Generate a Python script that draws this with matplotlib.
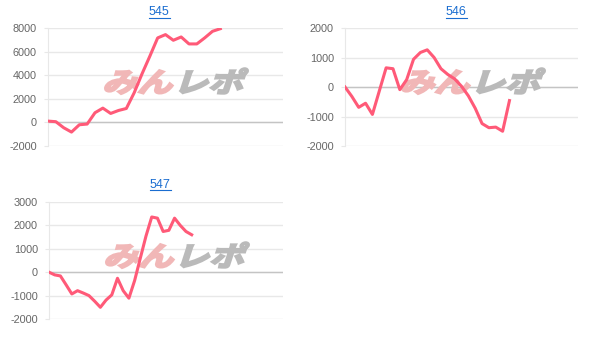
import matplotlib
matplotlib.use("Agg")
import matplotlib.pyplot as plt
from matplotlib.lines import Line2D
from matplotlib.textpath import TextPath
from matplotlib.patches import PathPatch
from matplotlib.font_manager import FontProperties
from matplotlib.transforms import Affine2D, IdentityTransform

# chart data
titles = ["545", "546", "547"]
diff_545 = [110, 60, -450, -820, -200, -140, 820, 1210, 760, 1010, 1180, 2510,
            4110, 5610, 7160, 7440, 6960, 7240, 6650, 6650, 7160, 7720, 7940]
diff_546 = [0, -320, -690, -550, -930, -140, 650, 620, -90, 250, 940, 1170, 1260,
            1000, 620, 425, 275, 25, -300, -720, -1240, -1380, -1360, -1500, -460]
diff_547 = [0, -115, -160, -540, -930, -790, -890, -1000, -1240, -1500, -1190, -970,
            -260, -790, -1110, -360, 600, 1550, 2360, 2310, 1740, 1790, 2310, 2000,
            1740, 1600]
yticks_545 = [-2000, 0, 2000, 4000, 6000, 8000]
yticks_546 = [-2000, -1000, 0, 1000, 2000]
yticks_547 = [-2000, -1000, 0, 1000, 2000, 3000]
xmax = [30, 34, 41]

W, H = 609, 342
LINE = "#ff5a78"
plt.rcParams["font.family"] = ["Liberation Sans", "DejaVu Sans"]

fig = plt.figure(figsize=(W / 100, H / 100), dpi=100)

# axes boxes in pixels: left, top, right, bottom
boxes = [(48, 28, 283, 146), (345, 28, 578, 146), (49, 202, 283, 319)]
title_pos = [(159, 12), (456, 12), (160, 185)]
series = [diff_545, diff_546, diff_547]
yticks = [yticks_545, yticks_546, yticks_547]

fp = FontProperties(family="Noto Sans CJK JP", weight="bold")


def watermark(ax, left, top):
    # logo drawn as skewed text paths in pixel space
    for txt, dx, col in [("みん", 54, "#f1b7b7"), ("レポ", 125, "#bababa")]:
        tp = TextPath((0, 0), txt, size=35, prop=fp)
        tr = Affine2D().scale(1.0, 0.78).skew_deg(18, 0).translate(left + dx, H - top - 64)
        patch = PathPatch(tr.transform_path(tp), transform=IdentityTransform(),
                          facecolor=col, edgecolor=col, lw=1.6, zorder=1.5)
        ax.add_artist(patch)


for i in range(3):
    l, t, r, b = boxes[i]
    ax = fig.add_axes([l / W, (H - b) / H, (r - l) / W, (b - t) / H])
    vals = series[i]
    ax.plot(range(len(vals)), vals, color=LINE, lw=2.2, zorder=3, solid_joinstyle="round")
    ax.set_xlim(0, xmax[i])
    ax.set_ylim(yticks[i][0], yticks[i][-1])
    ax.set_yticks(yticks[i])
    ax.set_yticklabels([str(v) for v in yticks[i]])
    ax.set_xticks([])
    ax.set_axisbelow(True)
    ax.grid(axis="y", color="#e8e8e8", lw=1)
    ax.axhline(0, color="#c4c4c4", lw=1, zorder=1)
    for s in ["top", "right", "bottom"]:
        ax.spines[s].set_visible(False)
    ax.spines["left"].set_color("#e8e8e8")
    ax.tick_params(axis="y", length=3, color="#e8e8e8", pad=5, labelsize=7.8,
                   labelcolor="#666666")
    watermark(ax, l, t)

    tx, ty = title_pos[i]
    fig.text(tx / W, 1 - ty / H, titles[i], ha="center", va="center",
             fontsize=9, color="#1a6dd0")
    fig.add_artist(Line2D([(tx - 10.5) / W, (tx + 10.5) / W],
                          [1 - (ty + 5.5) / H, 1 - (ty + 5.5) / H],
                          color="#1a6dd0", lw=0.8))

fig.savefig("out.png", dpi=100)
